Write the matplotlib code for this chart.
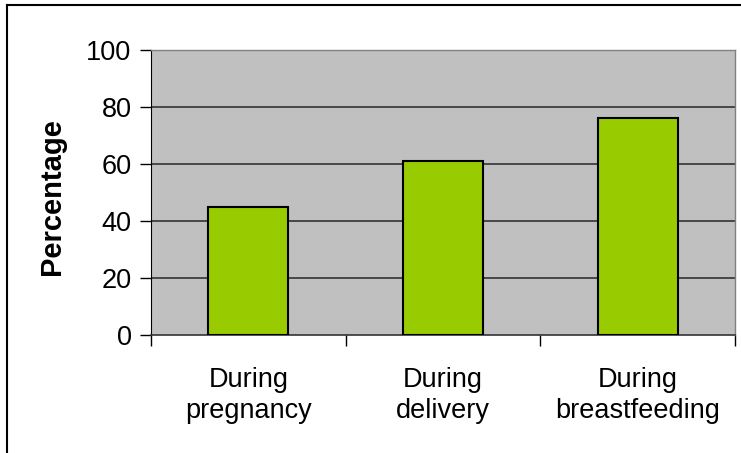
import matplotlib
matplotlib.use("Agg")
import matplotlib.pyplot as plt
from matplotlib.lines import Line2D

categories = ["During\npregnancy", "During\ndelivery", "During\nbreastfeeding"]
values = [45, 61, 76]
yticks = [0, 20, 40, 60, 80, 100]

plt.rcParams['font.family'] = ['Liberation Sans', 'DejaVu Sans']

fig = plt.figure(figsize=(7.41, 4.53), dpi=100)
W, H = 741, 453
ax = fig.add_axes([151 / W, 1 - 335 / H, (735 - 151) / W, (335 - 50) / H])
ax.set_facecolor('#C0C0C0')

x = list(range(len(categories)))
ax.bar(x, values, width=0.41, color='#99CC00', edgecolor='black', linewidth=1.5, zorder=3)
ax.set_xlim(-0.5, len(categories) - 0.5)
ax.set_ylim(0, 100)
ax.set_yticks(yticks)
ax.set_yticklabels([str(t) for t in yticks], fontsize=19.5)
for t in yticks[1:]:
    ax.axhline(t, color='#333333', linewidth=1.2, zorder=1)

ax.set_xticks(x)
ax.set_xticklabels(categories, fontsize=19.5, linespacing=1.25)
ax.tick_params(axis='x', length=0, pad=23)
ax.set_xticks([-0.5 + i for i in range(len(categories) + 1)], minor=True)
ax.tick_params(axis='x', which='minor', length=8, width=1, color='black', direction='out')
ax.tick_params(axis='y', length=8, width=1, color='black', direction='out', pad=6)

for s in ['top', 'right']:
    ax.spines[s].set_color('#808080')
    ax.spines[s].set_linewidth(1)
ax.spines['left'].set_color('black')
ax.spines['bottom'].set_color('#333333')
ax.spines['bottom'].set_linewidth(1.2)

ax.set_ylabel('Percentage', fontsize=21, fontweight='bold')
ax.yaxis.set_label_coords(66 / W, 1 - 197 / H, transform=fig.transFigure)

# figure frame (left and top visible)
fig.add_artist(Line2D([7 / W, 7 / W], [0, 1 - 5 / H], transform=fig.transFigure, color='black', linewidth=1.5))
fig.add_artist(Line2D([7 / W, 1], [1 - 5 / H, 1 - 5 / H], transform=fig.transFigure, color='black', linewidth=1.5))

fig.savefig('out.png', dpi=100)
